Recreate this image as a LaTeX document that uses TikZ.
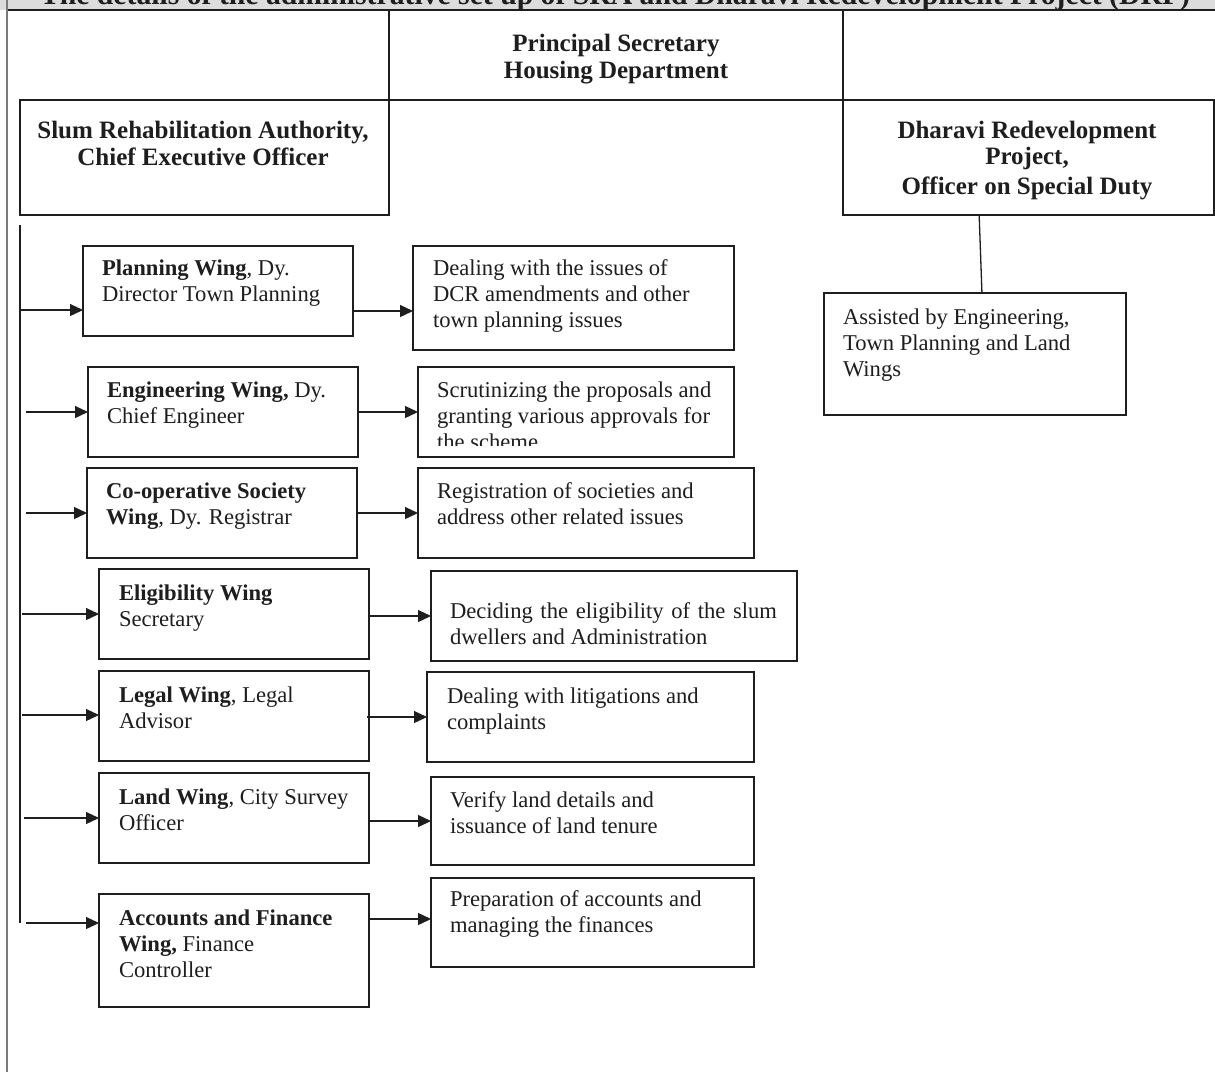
\documentclass[tikz,border=0pt]{standalone}
\usepackage{fontspec}
\setmainfont{Liberation Serif}
\usetikzlibrary{arrows.meta,calc}
\definecolor{ink}{HTML}{1E1E1E}
\definecolor{framec}{HTML}{7A7A7A}
\definecolor{band}{HTML}{DCDCDC}
\begin{document}
\begin{tikzpicture}[x=1pt,y=-1pt,
  box/.style={draw=ink, line width=1.3pt, inner sep=0pt, outer sep=0pt, anchor=north west},
  txt/.style={inner sep=0pt, outer sep=0pt, text=ink, font=\fontsize{22.6}{26}\selectfont, align=left, anchor=base west},
  head/.style={inner sep=0pt, outer sep=0pt, text=ink, font=\fontsize{25}{27}\selectfont\bfseries, align=center, anchor=base},
  arr/.style={draw=ink, line width=1.3pt, -{Triangle[length=13pt,width=12pt]}},
  ln/.style={draw=ink, line width=1.3pt}]
\useasboundingbox (0,0) rectangle (1215,1072);
\clip (0,0) rectangle (1215,1072);
\fill[white] (0,0) rectangle (1215,1072);
% title band
\fill[band] (0,0) rectangle (1215,10);
\node[inner sep=0pt, outer sep=0pt, anchor=base west, text=ink] (title) at (40,4.5)
  {\resizebox{1150pt}{!}{\bfseries The details of the administrative set up of SRA and Dharavi Redevelopment Project (DRP)}};
\draw[ln] (7,10) -- (1215,10);
\draw[draw=framec, line width=1.6pt] (7,0) -- (7,1072);

% top row
\node[box, minimum width=454pt, minimum height=90pt] (ps) at (389,10) {};
\node[box, minimum width=369pt, minimum height=115pt] (sra) at (20,100) {};
\node[box, minimum width=371pt, minimum height=115pt] (drp) at (843,100) {};
\node[head] (pst) at (616,78) {Principal Secretary\\Housing Department};
\node[head] (srat) at (203,165) {Slum Rehabilitation Authority,\\Chief Executive Officer};
\node[head] (drpt) at (1027,194) {Dharavi Redevelopment\\[-1pt]Project,\\[3pt]Officer on Special Duty};

% DRP branch
\node[box, minimum width=302pt, minimum height=122pt] (as) at (824,293) {};
\node[txt] (ast) at (843,376) {Assisted by Engineering,\\Town Planning and Land\\Wings};
\draw[ln] ($(drp.south west)!0.367!(drp.south east)$) -- ($(as.north west)!0.523!(as.north east)$);

% wing boxes
\node[box, minimum width=270pt, minimum height=90pt] (w1) at (83,246) {};
\node[box, minimum width=270pt, minimum height=90pt] (w2) at (88,367) {};
\node[box, minimum width=270pt, minimum height=90pt] (w3) at (87,468) {};
\node[box, minimum width=270pt, minimum height=90pt] (w4) at (99,569) {};
\node[box, minimum width=270pt, minimum height=90pt] (w5) at (99,671) {};
\node[box, minimum width=270pt, minimum height=90pt] (w6) at (99,773) {};
\node[box, minimum width=270pt, minimum height=113pt] (w7) at (99,894) {};

\node[txt] (w1t) at (102,301) {\textbf{Planning Wing}, Dy.\\Director Town Planning};
\node[txt] (w2t) at (107,423) {\textbf{Engineering Wing,} Dy.\\Chief Engineer};
\node[txt] (w3t) at (106,524) {\textbf{Co-operative Society}\\\textbf{Wing}, Dy. Registrar};
\node[txt] (w4t) at (119,626) {\textbf{Eligibility Wing}\\Secretary};
\node[txt] (w5t) at (119,728) {\textbf{Legal Wing}, Legal\\Advisor};
\node[txt] (w6t) at (119,830) {\textbf{Land Wing}, City Survey\\Officer};
\node[txt] (w7t) at (119,977) {\textbf{Accounts and Finance}\\\textbf{Wing,} Finance\\Controller};

% description boxes
\node[box, minimum width=321pt, minimum height=104pt] (d1) at (413,246) {};
\node[box, minimum width=316pt, minimum height=90pt] (d2) at (418,367) {};
\node[box, minimum width=336pt, minimum height=90pt] (d3) at (418,468) {};
\node[box, minimum width=366pt, minimum height=90pt] (d4) at (431,571) {};
\node[box, minimum width=327pt, minimum height=90pt] (d5) at (427,672) {};
\node[box, minimum width=323pt, minimum height=88pt] (d6) at (431,777) {};
\node[box, minimum width=323pt, minimum height=89pt] (d7) at (431,878) {};

\node[txt] (d1t) at (433,327) {Dealing with the issues of\\DCR amendments and other\\town planning issues};
\begin{scope}
  \clip (418,367) rectangle (734,445);
  \node[txt] (d2t) at (437,449) {Scrutinizing the proposals and\\granting various approvals for\\the scheme};
\end{scope}
\node[txt] (d3t) at (437,524) {Registration of societies and\\address other related issues};
\node[txt] (d4t) at (450,644) {\makebox[327pt][s]{Deciding the eligibility of the slum}\\dwellers and Administration};
\node[txt] (d5t) at (447,729) {Dealing with litigations and\\complaints};
\node[txt] (d6t) at (450,833) {Verify land details and\\issuance of land tenure};
\node[txt] (d7t) at (450,932) {Preparation of accounts and\\managing the finances};

% bus
\coordinate (bt) at (20,225);
\coordinate (bb) at (20,923);
\draw[ln] (bt) -- (bb);
\coordinate (l1) at (20,310);
\coordinate (l2) at (26,412);
\coordinate (l3) at (26,513);
\coordinate (l4) at (22,614);
\coordinate (l5) at (22,715);
\coordinate (l6) at (24,818);
\coordinate (l7) at (26,923);
\draw[arr] (l1) -- (l1 -| w1.west);
\draw[arr] (l2) -- (l2 -| w2.west);
\draw[arr] (l3) -- (l3 -| w3.west);
\draw[arr] (l4) -- (l4 -| w4.west);
\draw[arr] (l5) -- (l5 -| w5.west);
\draw[arr] (l6) -- (l6 -| w6.west);
\draw[arr] (l7) -- (l7 -| w7.west);

% right arrows
\coordinate (r1) at (0,311);
\coordinate (r2) at (0,412);
\coordinate (r3) at (0,513);
\coordinate (r4) at (0,616);
\coordinate (r5) at (367,717);
\coordinate (r6) at (0,821);
\coordinate (r7) at (0,919);
\draw[arr] (r1 -| w1.east) -- (r1 -| d1.west);
\draw[arr] (r2 -| w2.east) -- (r2 -| d2.west);
\draw[arr] (r3 -| w3.east) -- (r3 -| d3.west);
\draw[arr] (r4 -| w4.east) -- (r4 -| d4.west);
\draw[arr] (r5) -- (r5 -| d5.west);
\draw[arr] (r6 -| w6.east) -- (r6 -| d6.west);
\draw[arr] (r7 -| w7.east) -- (r7 -| d7.west);
\end{tikzpicture}
\end{document}
